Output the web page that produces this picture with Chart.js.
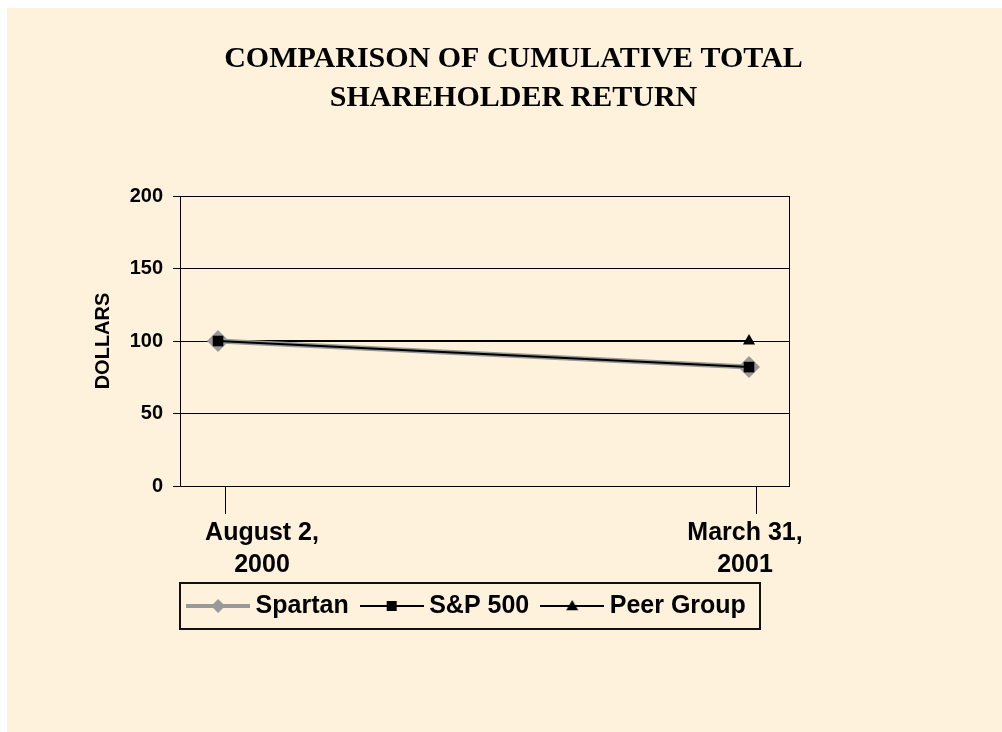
<!DOCTYPE html>
<html>
<head>
<meta charset="utf-8">
<script src="https://cdn.jsdelivr.net/npm/chart.js@4.4.1/dist/chart.umd.min.js"></script>
<style>
  html, body { margin: 0; padding: 0; background: #fff; }
  #wrap { position: absolute; left: 7px; top: 8px; width: 995px; height: 724px; background: #FEF2DC; }
</style>
</head>
<body>
<div id="wrap"><canvas id="chart" width="995" height="724"></canvas></div>
<script>
const dateLabels = [['August 2,', '2000'], ['March 31,', '2001']]
const spartan = [100, 82]
const sp500 = [100, 82]
const peerGroup = [100, 100]
const yMin = 0
const yMax = 200
const yStep = 50

const SANS = '"Liberation Sans", Arial, sans-serif'
const SERIF = '"Liberation Serif", "Times New Roman", serif'

const toPoints = (arr) => arr.map((v, i) => ({ x: i, y: v }))

// small canvas with line + marker for the legend
function legendIcon(color, lineWidth, style, r) {
	const c = document.createElement('canvas')
	c.width = 64
	c.height = 24
	const g = c.getContext('2d')
	g.strokeStyle = color
	g.fillStyle = color
	g.lineWidth = lineWidth
	g.beginPath()
	g.moveTo(0, 12)
	g.lineTo(64, 12)
	g.stroke()
	g.beginPath()
	if (style === 'rectRot') {
		g.moveTo(32, 12 - r); g.lineTo(32 + r, 12); g.lineTo(32, 12 + r); g.lineTo(32 - r, 12)
	} else if (style === 'rect') {
		g.rect(32 - r, 12 - r, 2 * r, 2 * r)
	} else {
		g.moveTo(32, 12 - r); g.lineTo(32 + r, 12 + r * 0.7); g.lineTo(32 - r, 12 + r * 0.7)
	}
	g.closePath()
	g.fill()
	return c
}

const xAxisPlugin = {
	id: 'xAxisLabels',
	afterLayout(chart) {
		chart.legend.left -= 44
		chart.legend.right -= 44
	},
	afterDraw(chart) {
		const { ctx, chartArea, scales } = chart
		const x = scales.x
		const labelShift = [44, -4]
		ctx.save()
		ctx.strokeStyle = '#000'
		ctx.lineWidth = 1
		ctx.fillStyle = '#000'
		ctx.font = 'bold 25px ' + SANS
		ctx.textAlign = 'center'
		ctx.textBaseline = 'alphabetic'
		dateLabels.forEach((lines, i) => {
			const px = x.getPixelForValue(i)
			const tx = Math.round(px + 7) + 0.5
			ctx.beginPath()
			ctx.moveTo(tx, chartArea.bottom)
			ctx.lineTo(tx, chartArea.bottom + 28)
			ctx.stroke()
			lines.forEach((s, j) => ctx.fillText(s, px + labelShift[i], chartArea.bottom + 54 + j * 32))
		})
		// legend frame
		const hb = chart.legend.legendHitBoxes
		if (hb && hb.length) {
			const first = hb[0]
			const last = hb[hb.length - 1]
			const left = Math.round(first.left - 13)
			const right = Math.round(last.left + last.width + 14)
			const top = Math.round(first.top + 12.5 - 23)
			ctx.lineWidth = 2
			ctx.strokeStyle = '#111'
			ctx.strokeRect(left, top, right - left, 46)
		}
		ctx.restore()
	},
}

Chart.defaults.color = '#000'

const ctx = document.getElementById('chart').getContext('2d')
new Chart(ctx, {
	type: 'line',
	data: {
		datasets: [
			{
				label: 'Spartan',
				data: toPoints(spartan),
				borderColor: '#999999',
				backgroundColor: '#999999',
				borderWidth: 5,
				pointStyle: 'rectRot',
				pointRadius: 11,
				pointBorderWidth: 0,
				order: 1,
				icon: legendIcon('#999999', 4, 'rectRot', 7),
			},
			{
				label: 'S&P 500',
				data: toPoints(sp500),
				borderColor: '#000',
				backgroundColor: '#000',
				borderWidth: 2,
				pointStyle: 'rect',
				pointRadius: 7.5,
				pointBorderWidth: 0,
				order: 0,
				icon: legendIcon('#000', 2, 'rect', 5),
			},
			{
				label: 'Peer Group',
				data: toPoints(peerGroup),
				borderColor: '#000',
				backgroundColor: '#000',
				borderWidth: 2,
				pointStyle: 'triangle',
				pointRadius: 7,
				pointBorderWidth: 0,
				order: 2,
				icon: legendIcon('#000', 2, 'triangle', 6),
			},
		],
	},
	options: {
		responsive: false,
		animation: false,
		layout: { padding: { top: 0, left: 80, right: 62, bottom: 103.5 } },
		plugins: {
			title: {
				display: true,
				text: ['COMPARISON OF CUMULATIVE TOTAL', 'SHAREHOLDER RETURN'],
				color: '#000',
				font: { family: SERIF, size: 30, weight: 'bold', lineHeight: 39 / 30 },
				padding: { top: 31.5, bottom: 78.5 },
			},
			legend: {
				position: 'bottom',
				labels: {
					usePointStyle: true,
					pointStyleWidth: 50,
					padding: 18,
					color: '#000',
					font: { family: SANS, size: 25, weight: 'bold' },
					generateLabels: (chart) =>
						chart.data.datasets.map((ds, i) => ({
							text: ds.label,
							pointStyle: ds.icon,
							fillStyle: ds.borderColor,
							strokeStyle: ds.borderColor,
							lineWidth: 0,
							hidden: false,
							datasetIndex: i,
							fontColor: '#000',
						})),
				},
			},
			tooltip: { enabled: false },
		},
		scales: {
			x: {
				type: 'linear',
				min: -0.0716,
				max: 1.0753,
				grid: { display: false },
				ticks: { display: false },
				border: { display: true, color: '#000', width: 1 },
				afterFit: (scale) => {
					scale.height = 89.5
				},
			},
			y: {
				min: yMin,
				max: yMax,
				ticks: {
					stepSize: yStep,
					padding: 10,
					color: '#000',
					font: { family: SANS, size: 20, weight: 'bold' },
				},
				grid: { color: '#000', lineWidth: 1, tickLength: 7, drawTicks: true },
				border: { display: true, color: '#000', width: 1 },
				title: {
					display: true,
					text: 'DOLLARS',
					color: '#000',
					font: { family: SANS, size: 20, weight: 'bold' },
					padding: { top: 4, bottom: 4 },
				},
				afterFit: (scale) => {
					scale.width = 93
				},
			},
			y2: {
				position: 'right',
				min: yMin,
				max: yMax,
				grid: { display: false },
				ticks: { display: false },
				border: { display: true, color: '#000', width: 1 },
				afterFit: (scale) => {
					scale.width = 151
				},
			},
		},
	},
	plugins: [xAxisPlugin],
})
</script>
</body>
</html>
